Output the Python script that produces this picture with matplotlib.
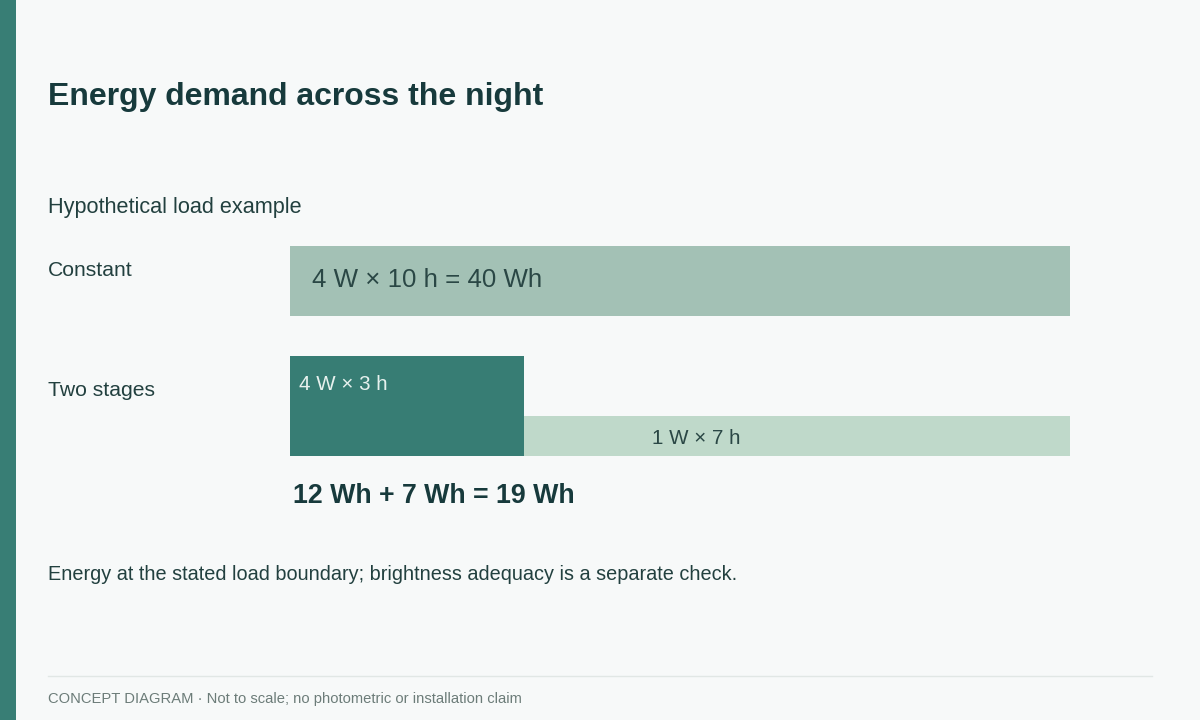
import matplotlib.pyplot as plt

# data
rows = ["Constant", "Two stages"]
constant_power = 4      # W
constant_hours = 10     # h
stage_power = [4, 1]    # W
stage_hours = [3, 7]    # h
stage_labels = ["4 W × 3 h", "1 W × 7 h"]
constant_label = "4 W × 10 h = 40 Wh"
total_label = "12 Wh + 7 Wh = 19 Wh"

plt.rcParams['font.family'] = ['Liberation Sans', 'DejaVu Sans']

W, H = 1200, 720
bg = '#f7f9f9'
dark = '#173a3c'
text_c = '#22403f'

fig = plt.figure(figsize=(12, 7.2), dpi=100)
fig.patch.set_facecolor(bg)

# full-figure axes: x in hours (290 px -> 0 h, 78 px per hour), y in pixels from top
px_per_h = 78
x0 = 290
ax = fig.add_axes([0, 0, 1, 1])
ax.set_xlim(-x0 / px_per_h, (W - x0) / px_per_h)
ax.set_ylim(H, 0)
ax.axis('off')
ax.set_facecolor(bg)

def fx(px):
    return px / W

def fy(py):
    return 1 - py / H

# left stripe
fig.patches.append(plt.Rectangle((0, 0), fx(16), 1, transform=fig.transFigure,
                                 facecolor='#387e75', edgecolor='none', zorder=0))

fig.text(fx(48), fy(97), "Energy demand across the night", fontsize=23,
         fontweight='bold', color=dark, va='center')
fig.text(fx(48), fy(207), "Hypothetical load example", fontsize=15.6,
         color=text_c, va='center')
fig.text(fx(48), fy(271), rows[0], fontsize=15.2, color=text_c, va='center')
fig.text(fx(48), fy(391), rows[1], fontsize=15.2, color=text_c, va='center')

# constant bar
ax.bar(0, 70, width=constant_hours, bottom=246, align='edge',
       color='#a3c1b5', edgecolor='none')
ax.text(22 / px_per_h, 280, constant_label, fontsize=18.6, color='#2a4745',
        va='center', ha='left')

# two-stage bars
base = 456
starts = [0, stage_hours[0]]
heights = [100, 40]
colors = ['#377d74', '#bfd9ca']
ax.bar(starts, [-h for h in heights], width=stage_hours, bottom=base,
       align='edge', color=colors, edgecolor='none')
ax.text(9 / px_per_h, 385, stage_labels[0], fontsize=14.8, color='#e6f1ee',
        va='center', ha='left')
ax.text(starts[1] + stage_hours[1] * 0.315, 439, stage_labels[1], fontsize=14.8,
        color='#2a4745', va='center', ha='center')

ax.text(3 / px_per_h, 496, total_label, fontsize=19.3, fontweight='bold',
        color=dark, va='center', ha='left')

fig.text(fx(48), fy(574), "Energy at the stated load boundary; brightness adequacy is a separate check.",
         fontsize=14.3, color=text_c, va='center')

# footer
ax.plot([(48 - x0) / px_per_h, (1152 - x0) / px_per_h], [676, 676],
        color='#e1e7e5', lw=1)
fig.text(fx(48), fy(699), "CONCEPT DIAGRAM · Not to scale; no photometric or installation claim",
         fontsize=10.6, color='#6c7c79', va='center')

fig.savefig("out.png", dpi=100, facecolor=bg)
